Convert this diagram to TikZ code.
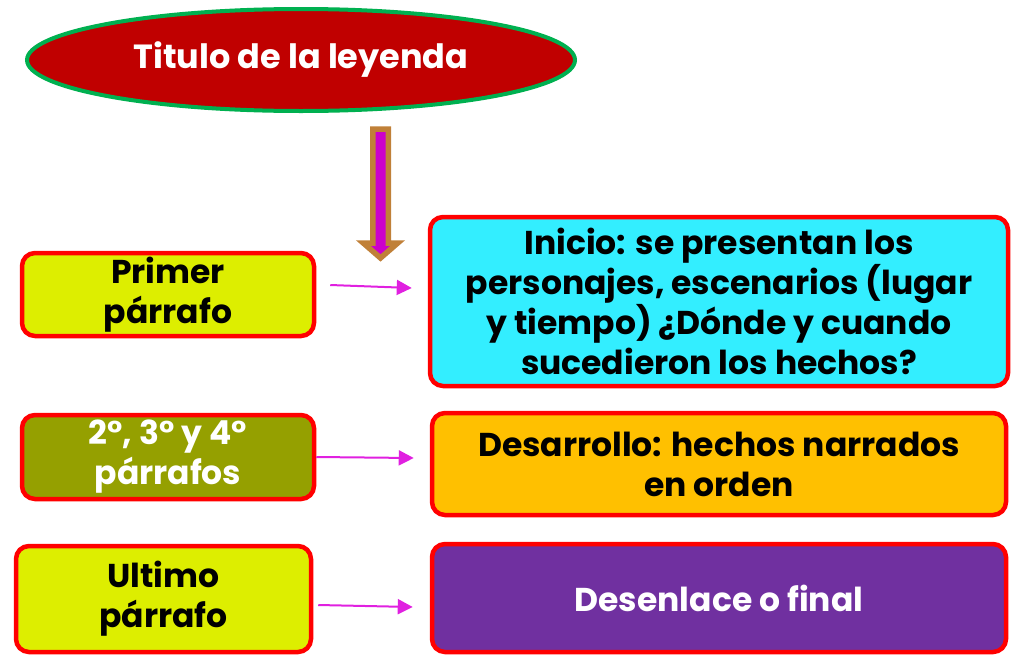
\documentclass[tikz,border=0pt]{standalone}
\usepackage{fontspec}
\setmainfont{Poppins}[BoldFont={* Bold}]
\usetikzlibrary{shapes.geometric,arrows.meta}
\definecolor{titlered}{HTML}{C00000}
\definecolor{titlegreen}{HTML}{00B050}
\definecolor{boxred}{HTML}{FF0000}
\definecolor{lime}{HTML}{DDEE00}
\definecolor{olive}{HTML}{95A000}
\definecolor{cyanbox}{HTML}{33EEFF}
\definecolor{amber}{HTML}{FFC000}
\definecolor{purplebox}{HTML}{7030A0}
\definecolor{arrowmag}{HTML}{E020E0}
\definecolor{bigmag}{HTML}{CC00CC}
\definecolor{bronze}{HTML}{C08038}
\tikzset{
  box/.style={draw=boxred, line width=4.5pt, rounded corners=13pt, align=center,
    font=\bfseries\fontsize{33}{40}\selectfont, inner sep=0pt},
  conn/.style={draw=arrowmag, line width=2pt, -{Triangle[length=15pt,width=15pt]}},
}
\begin{document}
\begin{tikzpicture}[x=1pt,y=-1pt]
\useasboundingbox (0,0) rectangle (1012,656);
% title
\node[ellipse, draw=titlegreen, fill=titlered, line width=4pt, minimum width=548pt, minimum height=102pt,
  text=white, font=\bfseries\fontsize{33.5}{36}\selectfont] (title) at (301,60) {Titulo de la leyenda};
% big block arrow
\coordinate (ba) at (380.5,129);
\filldraw[draw=bronze, fill=bigmag, line width=5.5pt, line join=miter]
  ([xshift=-7.75pt]ba) -- ([xshift=7.75pt]ba) -- ++(0,114) -- ++(9.5,0) -- (380.5,258) -- (363.25,243) -- (372.75,243) -- cycle;
% left boxes
\node[box, fill=lime, minimum width=292pt, minimum height=83pt] (p1) at (168,294.5) {Primer\\párrafo};
\node[box, fill=olive, text=white, minimum width=292pt, minimum height=84pt] (p2) at (168,457) {2°, 3° y 4°\\párrafos};
\node[box, fill=lime, minimum width=295pt, minimum height=106pt] (p3) at (163.5,599) {Ultimo\\párrafo};
% right boxes
\node[box, fill=cyanbox, minimum width=578pt, minimum height=169pt] (inicio) at (719,301.5)
  {Inicio: se presentan los\\personajes, escenarios (lugar\\y tiempo) ¿Dónde y cuando\\sucedieron los hechos?};
\node[box, fill=amber, minimum width=574pt, minimum height=102pt] (des) at (719,464)
  {Desarrollo: hechos narrados\\en orden};
\node[box, fill=purplebox, text=white, minimum width=574pt, minimum height=108pt] (fin) at (719,598)
  {Desenlace o final};
% connectors
\draw[conn] ([xshift=14pt,yshift=9.5pt]p1.east) -- ([xshift=-16pt,yshift=13.5pt]inicio.west);
\draw[conn] (p2.east) -- ([xshift=-16pt,yshift=6pt]des.west);
\draw[conn] ([xshift=5pt,yshift=-6pt]p3.east) -- ([xshift=-17pt,yshift=-9pt]fin.west);
\end{tikzpicture}
\end{document}
